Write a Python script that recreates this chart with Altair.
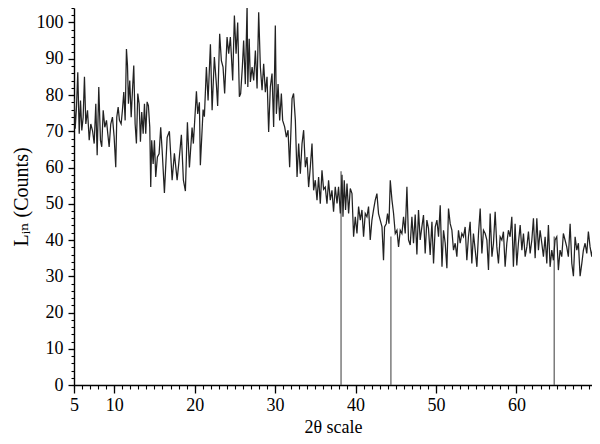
import altair as alt
import pandas as pd

# XRD scan: (2-theta, counts)
scan_05_16 = [(5.02,79),(5.15,70.7),(5.31,76.7),(5.47,86.3),(5.65,69.3),(5.81,78.5),(5.97,70.2),(6.14,73.9),(6.30,85),(6.47,72),(6.68,75.8),(6.89,67.5),(7.09,72),(7.30,70.2),(7.51,66.6),(7.71,77.6),(7.88,63.4),(8.08,82.2),(8.29,67.5),(8.45,65.7),(8.63,75.8),(8.83,71.1),(9.04,73),(9.20,69.3),(9.37,65.7),(9.57,72),(9.78,73.9),(9.99,68.4),(10.19,60.1),(10.32,73.9),(10.49,76.7),(10.65,73),(10.86,72),(11.02,75.8),(11.19,80.8),(11.36,73),(11.52,92.7),(11.65,88.1),(11.77,77.6),(11.93,84),(12.11,73.9),(12.27,81.3),(12.43,88.1),(12.60,72),(12.76,66.6),(12.93,80.4),(13.10,77.6),(13.26,67.1),(13.42,75.3),(13.60,69.3),(13.76,77.6),(13.92,69.3),(14.09,78.1),(14.25,77.1),(14.42,71.1),(14.54,54.6),(14.66,67.5),(14.84,61),(15.00,67.5),(15.16,57.4),(15.37,62.9),(15.58,63.8),(15.78,71.1),(15.96,64.7)]
scan_16_26 = [(16.24,53),(16.58,68.3),(16.86,70),(17.20,56.5),(17.48,63.9),(17.82,56.5),(18.02,61),(18.35,69),(18.60,56.5),(18.85,53.5),(19.10,72.5),(19.35,60),(19.68,71),(19.84,66.6),(20.22,81),(20.38,74.8),(20.59,78),(20.71,60.6),(21.05,76),(21.21,74),(21.46,87.7),(21.67,78.5),(21.96,94),(22.17,75.8),(22.45,90.5),(22.70,83),(22.86,77),(23.11,96.9),(23.32,89.5),(23.53,87.7),(23.73,80.4),(24.03,96),(24.23,91.4),(24.44,96),(24.73,84),(24.94,101.9),(25.15,91.4),(25.35,100),(25.56,79.5),(25.72,80.4),(25.93,87.7),(26.09,95),(26.30,83),(26.52,104.9)]
scan_26_37 = [(26.61,82.2),(26.78,95.5),(26.93,83.6),(27.14,87.7),(27.34,84),(27.55,92.3),(27.76,81.8),(27.96,102.8),(28.17,87.7),(28.38,81.3),(28.58,88.6),(28.79,80.8),(29.00,85),(29.20,69.8),(29.41,82.2),(29.62,85.9),(29.82,71.2),(30.03,99.2),(30.16,74.8),(30.37,83),(30.57,73),(30.78,80.4),(30.94,73),(31.19,71.2),(31.40,68.4),(31.61,70.3),(31.81,60.1),(32.11,79),(32.30,80.4),(32.52,73),(32.73,57.4),(32.93,66.6),(33.14,58.3),(33.35,66.6),(33.55,70.3),(33.76,60.1),(33.97,62.9),(34.17,54.6),(34.38,60.1),(34.59,66.6),(34.79,53.7),(35.00,56.5),(35.21,51),(35.41,57.4),(35.62,50),(35.83,59.2),(36.03,54),(36.24,54.6),(36.45,50),(36.65,56.5),(36.86,51),(37.07,53.7),(37.27,47.8)]
scan_37_48 = [(37.48,54.7),(37.70,50.1),(37.89,54.7),(38.11,47.3),(38.32,58),(38.44,46.4),(38.60,56.5),(38.76,48.3),(38.94,55.6),(39.14,47.3),(39.35,54.2),(39.56,52.8),(39.76,40.9),(39.97,46.4),(40.18,41.8),(40.38,49.2),(40.59,45.5),(40.80,48.3),(41.00,40.9),(41.21,47.3),(41.42,46.4),(41.62,49.2),(41.83,40),(42.04,45.5),(42.24,48.3),(42.45,51),(42.66,52.8),(42.86,47.3),(43.07,45.5),(43.29,43.6),(43.48,34.4),(43.61,43.6),(43.82,44.5),(43.98,47.3),(44.16,44.5),(44.32,56.5),(44.53,51),(44.73,47.3),(44.94,41.8),(45.15,42.7),(45.35,38.1),(45.56,42.7),(45.77,41.8),(45.97,46.4),(46.18,41.8),(46.39,54.7),(46.59,40),(46.80,38.6),(47.01,46.4),(47.21,39.1),(47.42,47),(47.63,36),(47.83,48.3)]
scan_48_58 = [(48.04,40),(48.25,43.6),(48.45,46.9),(48.66,36.3),(48.87,45.5),(49.07,43.2),(49.28,35.9),(49.50,45),(49.70,33.5),(49.91,43.6),(50.12,45.5),(50.32,40.9),(50.53,49.6),(50.75,32.6),(50.94,42.7),(51.15,39.1),(51.36,32.2),(51.56,48.7),(51.77,44.5),(51.98,42.7),(52.18,37.2),(52.39,39.1),(52.60,35.4),(52.80,42.7),(53.01,39.1),(53.22,41.8),(53.42,40.9),(53.63,43.6),(53.84,34.4),(54.04,40.9),(54.25,45),(54.46,33.5),(54.66,41.8),(54.88,37.2),(55.09,32.6),(55.29,41.8),(55.50,48.7),(55.71,36.3),(55.91,42.7),(56.12,41.8),(56.33,40),(56.53,31.7),(56.74,47.3),(56.96,35.4),(57.15,39.1),(57.36,47.8),(57.57,38.1),(57.77,33.5),(57.98,40.9),(58.19,40)]
scan_58_70 = [(58.39,42.3),(58.60,32.6),(58.81,39.1),(59.01,42.7),(59.22,40.9),(59.43,46.4),(59.63,32.6),(59.84,44.5),(60.05,33),(60.25,39.1),(60.47,44.1),(60.68,37.2),(60.88,41.8),(61.09,35.4),(61.30,38.1),(61.50,42.3),(61.71,36.3),(61.92,40),(62.12,46),(62.33,35),(62.54,46),(62.74,37.2),(62.95,42.7),(63.16,39.1),(63.36,35.4),(63.57,40.9),(63.78,33.5),(63.98,44.1),(64.19,32.6),(64.40,37.2),(64.60,34.4),(64.81,40),(65.02,40.9),(65.22,31.7),(65.43,37.2),(65.64,35.4),(65.84,41.8),(66.05,40),(66.26,38.1),(66.46,35.4),(66.68,44.5),(66.89,33.5),(67.09,30),(67.30,40.9),(67.51,37.2),(67.71,39.1),(67.92,30),(68.13,33.5),(68.33,37.2),(68.54,39.1),(68.75,36.3),(68.95,42.3),(69.16,38.1),(69.37,35.4),(69.57,39.1),(69.78,32.6),(69.98,37.2)]

# reference peak sticks
stick_pos = [38.2, 44.4, 64.7]
stick_height = [59, 41, 41]

# axis tick values
x_major = [5, 10, 20, 30, 40, 50, 60]
x_minor = list(range(5, 70))
y_major = list(range(0, 101, 10))
y_minor = list(range(0, 105, 2))

pts = scan_05_16 + scan_16_26 + scan_26_37 + scan_37_48 + scan_48_58 + scan_58_70
scan = pd.DataFrame(pts, columns=["tt", "counts"])
sticks = pd.DataFrame({"tt": stick_pos, "h": stick_height, "z": [0] * len(stick_pos)})

FONT = "Liberation Serif, Times New Roman, DejaVu Serif, serif"
xdom = [5, 69.4]
ydom = [0, 104]

line = alt.Chart(scan).mark_line(color="#222222", strokeWidth=1.25, clip=True).encode(
    x=alt.X("tt:Q", scale=alt.Scale(domain=xdom, nice=False, zero=False),
            axis=alt.Axis(values=x_major, orient="bottom", tickSize=8, tickWidth=1.3,
                          domainWidth=1.4, domainColor="black", tickColor="black",
                          labelFont=FONT, labelFontSize=18, labelColor="black", labelPadding=3,
                          title="2θ scale", titleFont=FONT, titleFontSize=18,
                          titleFontWeight="normal", titleColor="black", titlePadding=4,
                          grid=False, labelFlush=False)),
    y=alt.Y("counts:Q", scale=alt.Scale(domain=ydom, nice=False, zero=True),
            axis=alt.Axis(values=y_major, orient="left", tickSize=6, tickWidth=1.3,
                          domainWidth=1.4, domainColor="black", tickColor="black",
                          labelFont=FONT, labelFontSize=18, labelColor="black", labelPadding=5,
                          title="Lᵢₙ (Counts)", titleFont=FONT, titleFontSize=20,
                          titleFontWeight="normal", titleColor="black", titlePadding=5,
                          grid=False, labelFlush=False)),
)

rules = alt.Chart(sticks).mark_rule(color="#5a5a5a", strokeWidth=1.2).encode(
    x=alt.X("tt:Q", scale=alt.Scale(domain=xdom, nice=False, zero=False),
            axis=alt.Axis(values=x_minor, orient="bottom", tickSize=4, tickWidth=1.1,
                          tickColor="black", labels=False, domain=False, grid=False, title="")),
    y=alt.Y("z:Q", scale=alt.Scale(domain=ydom, nice=False, zero=True),
            axis=alt.Axis(values=y_minor, orient="left", tickSize=3, tickWidth=1.1,
                          tickColor="black", labels=False, domain=False, grid=False, title="")),
    y2="h:Q",
)

chart = alt.layer(rules, line).resolve_axis(x="independent", y="independent").properties(
    width=518, height=377,
    autosize=alt.AutoSizeParams(type="none"),
    padding={"left": 66, "top": 0, "right": 0, "bottom": 51},
).configure_view(strokeWidth=0)

chart.save("out.html", embed_options={"renderer": "svg", "actions": False})
